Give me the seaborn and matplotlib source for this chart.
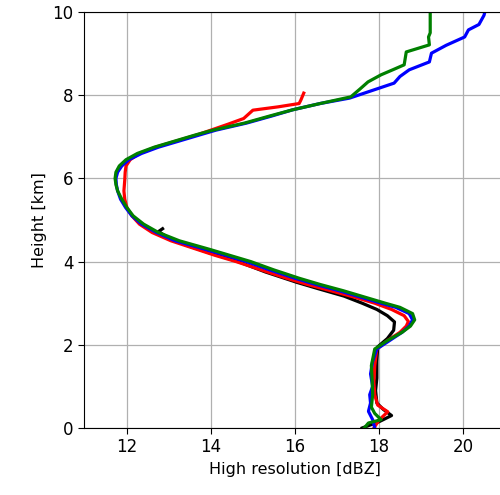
import matplotlib
matplotlib.use("Agg")
import matplotlib.pyplot as plt
import seaborn as sns
import pandas as pd

# ---- data (dBZ vs height in km) ----
black_h = [0.0, 0.15, 0.3, 0.45, 0.6, 0.9, 1.2, 1.6, 1.95, 2.15, 2.35, 2.55, 2.7, 2.85, 3.0, 3.17, 3.35, 3.5, 3.75, 4.0, 4.2, 4.4, 4.6, 4.72, 4.79]
black_x = [17.6, 18.0, 18.3, 18.1, 17.95, 17.92, 17.95, 17.95, 17.97, 18.2, 18.35, 18.37, 18.2, 17.95, 17.6, 17.17, 16.55, 16.05, 15.3, 14.65, 14.0, 13.4, 12.95, 12.75, 12.85]

red_h = [0.0, 0.19, 0.39, 0.55, 0.8, 1.1, 1.5, 1.9, 2.1, 2.3, 2.45, 2.56, 2.7, 2.85, 3.0, 3.15, 3.3, 3.45, 3.6, 3.8, 4.0, 4.15, 4.3, 4.5, 4.7, 4.9, 5.1, 5.3, 5.5, 5.7, 5.96, 6.15, 6.3, 6.45, 6.6, 6.75, 6.9, 7.05, 7.16, 7.3, 7.44, 7.64, 7.72, 7.8, 7.88, 8.05]
red_x = [17.88, 18.0, 18.21, 17.97, 17.9, 17.88, 17.9, 17.95, 18.2, 18.5, 18.65, 18.7, 18.6, 18.3, 17.9, 17.4, 16.85, 16.3, 15.8, 15.2, 14.6, 14.1, 13.65, 13.05, 12.6, 12.3, 12.12, 12.0, 11.95, 11.93, 11.95, 11.96, 11.98, 12.08, 12.3, 12.68, 13.18, 13.68, 14.0, 14.4, 14.78, 15.0, 15.6, 16.1, 16.14, 16.21]

blue_h = [0.0, 0.2, 0.4, 0.6, 0.8, 1.0, 1.3, 1.6, 1.9, 2.1, 2.3, 2.45, 2.6, 2.75, 2.9, 3.0, 3.15, 3.3, 3.45, 3.6, 3.8, 4.0, 4.15, 4.3, 4.5, 4.7, 4.9, 5.1, 5.3, 5.5, 5.7, 5.85, 6.0, 6.15, 6.3, 6.45, 6.6, 6.75, 6.9, 7.05, 7.16, 7.33, 7.5, 7.65, 7.8, 7.93, 8.1, 8.29, 8.45, 8.61, 8.8, 9.01, 9.2, 9.4, 9.57, 9.7, 9.81, 9.92, 10.0]
blue_x = [17.9, 17.85, 17.75, 17.8, 17.78, 17.85, 17.8, 17.85, 17.95, 18.25, 18.55, 18.72, 18.8, 18.72, 18.4, 18.05, 17.55, 17.05, 16.5, 16.0, 15.4, 14.85, 14.35, 13.85, 13.15, 12.7, 12.35, 12.12, 11.97, 11.85, 11.78, 11.75, 11.74, 11.78, 11.88, 12.05, 12.35, 12.75, 13.25, 13.75, 14.12, 14.85, 15.45, 15.95, 16.6, 17.3, 17.8, 18.36, 18.5, 18.72, 19.2, 19.25, 19.6, 20.04, 20.13, 20.38, 20.44, 20.5, 20.52]

green_h = [0.0, 0.12, 0.2, 0.35, 0.5, 0.8, 1.1, 1.5, 1.9, 2.1, 2.3, 2.45, 2.6, 2.75, 2.9, 3.0, 3.15, 3.3, 3.45, 3.6, 3.8, 4.0, 4.15, 4.3, 4.5, 4.7, 4.9, 5.1, 5.3, 5.5, 5.7, 5.85, 6.0, 6.15, 6.3, 6.45, 6.6, 6.75, 6.9, 7.05, 7.16, 7.33, 7.5, 7.65, 7.8, 7.96, 8.15, 8.32, 8.49, 8.62, 8.73, 9.04, 9.21, 9.4, 9.5, 10.0]
green_x = [17.65, 17.75, 18.05, 17.9, 17.82, 17.85, 17.84, 17.82, 17.9, 18.2, 18.55, 18.75, 18.85, 18.8, 18.5, 18.15, 17.65, 17.15, 16.6, 16.1, 15.5, 14.95, 14.45, 13.95, 13.25, 12.75, 12.4, 12.15, 12.0, 11.88, 11.78, 11.74, 11.72, 11.74, 11.82, 11.98, 12.25, 12.65, 13.15, 13.65, 14.05, 14.8, 15.4, 15.95, 16.6, 17.33, 17.55, 17.74, 18.05, 18.35, 18.6, 18.65, 19.2, 19.18, 19.22, 19.22]

x_ticks = [12, 14, 16, 18, 20]
y_ticks = [0, 2, 4, 6, 8, 10]

series = [
    ("black", black_x, black_h),
    ("red", red_x, red_h),
    ("blue", blue_x, blue_h),
    ("green", green_x, green_h),
]

fig = plt.figure(figsize=(5, 4.95), dpi=100)
ax = fig.add_axes([84 / 500, 67 / 495, 421 / 500, 416 / 495])

for color, xs, hs in series:
    df = pd.DataFrame({"dbz": xs, "h": hs})
    sns.lineplot(data=df, x="dbz", y="h", sort=False, estimator=None,
                 color=color, linewidth=2.3, ax=ax)

ax.set_xlim(10.98, 21.0)
ax.set_ylim(0, 10)
ax.set_xticks(x_ticks)
ax.set_yticks(y_ticks)
ax.grid(True, color="#b0b0b0", linewidth=0.9)
ax.set_axisbelow(True)
ax.tick_params(labelsize=12, length=4)
ax.set_xlabel("High resolution [dBZ]", fontsize=11.5)
ax.set_ylabel("Height [km]", fontsize=11.5)

fig.savefig("out.png", dpi=100)
